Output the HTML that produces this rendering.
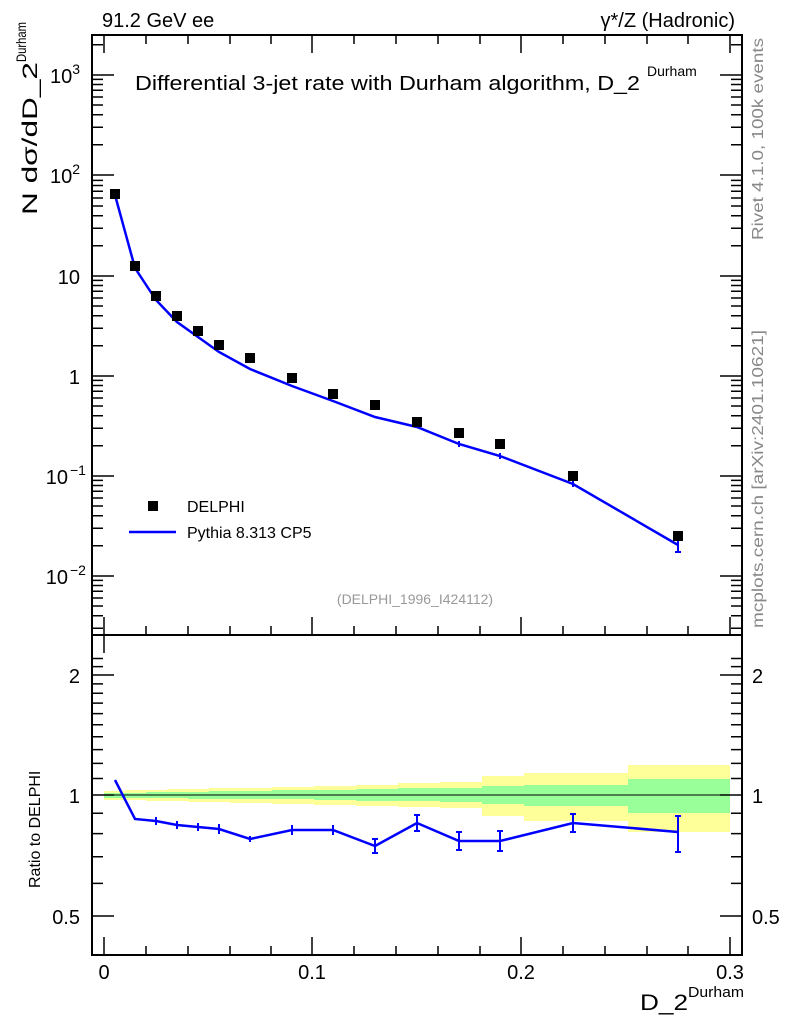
<!DOCTYPE html>
<html><head><style>body{margin:0;background:#fff}svg{display:block;font-family:"Liberation Sans",sans-serif}</style></head><body>
<svg width="786" height="1024" viewBox="0 0 786 1024">
<g stroke="none">
<rect x="104" y="791" width="21" height="9" fill="#ffff99"/><rect x="104" y="793" width="21" height="5" fill="#99ff99"/>
<rect x="125" y="790" width="21" height="10" fill="#ffff99"/><rect x="125" y="793" width="21" height="5" fill="#99ff99"/>
<rect x="146" y="790" width="21" height="11" fill="#ffff99"/><rect x="146" y="792" width="21" height="6" fill="#99ff99"/>
<rect x="167" y="789" width="21" height="12" fill="#ffff99"/><rect x="167" y="792" width="21" height="6" fill="#99ff99"/>
<rect x="188" y="789" width="21" height="13" fill="#ffff99"/><rect x="188" y="792" width="21" height="7" fill="#99ff99"/>
<rect x="209" y="788" width="21" height="14" fill="#ffff99"/><rect x="209" y="791" width="21" height="8" fill="#99ff99"/>
<rect x="230" y="788" width="42" height="15" fill="#ffff99"/><rect x="230" y="791" width="42" height="8" fill="#99ff99"/>
<rect x="272" y="787" width="42" height="17" fill="#ffff99"/><rect x="272" y="790" width="42" height="9" fill="#99ff99"/>
<rect x="314" y="786" width="42" height="19" fill="#ffff99"/><rect x="314" y="790" width="42" height="10" fill="#99ff99"/>
<rect x="356" y="785" width="42" height="21" fill="#ffff99"/><rect x="356" y="789" width="42" height="12" fill="#99ff99"/>
<rect x="398" y="783" width="42" height="24" fill="#ffff99"/><rect x="398" y="788" width="42" height="13" fill="#99ff99"/>
<rect x="440" y="782" width="42" height="26" fill="#ffff99"/><rect x="440" y="788" width="42" height="14" fill="#99ff99"/>
<rect x="482" y="776" width="42" height="40" fill="#ffff99"/><rect x="482" y="786" width="42" height="18" fill="#99ff99"/>
<rect x="524" y="773" width="104" height="48" fill="#ffff99"/><rect x="524" y="785" width="104" height="21" fill="#99ff99"/>
<rect x="628" y="765" width="102" height="67" fill="#ffff99"/><rect x="628" y="779" width="102" height="34" fill="#99ff99"/>
</g>
<line x1="92" y1="795" x2="742" y2="795" stroke="#000" stroke-width="1"/>
<rect x="92" y="35" width="650" height="600" fill="none" stroke="#000" stroke-width="2"/>
<rect x="92" y="635" width="650" height="320" fill="none" stroke="#000" stroke-width="2"/>
<g stroke="#000" stroke-width="1.5">
<path d="M104 635v-18M312 635v-18M521 635v-18M730 635v-18M104 955v-18M312 955v-18M521 955v-18M730 955v-18
M104 35v18M312 35v18M521 35v18M730 35v18
M146 635v-9M188 635v-9M230 635v-9M271 635v-9M354 635v-9M396 635v-9M438 635v-9M480 635v-9M563 635v-9M605 635v-9M647 635v-9M688 635v-9
M146 955v-9M188 955v-9M230 955v-9M271 955v-9M354 955v-9M396 955v-9M438 955v-9M480 955v-9M563 955v-9M605 955v-9M647 955v-9M688 955v-9
M146 35v9M188 35v9M230 35v9M271 35v9M354 35v9M396 35v9M438 35v9M480 35v9M563 35v9M605 35v9M647 35v9M688 35v9
M104 635v18"/>
<path d="M92 75h22M92 175h22M92 276h22M92 376h22M92 476h22M92 576h22M742 75h-22M742 175h-22M742 276h-22M742 376h-22M742 476h-22M742 576h-22
M92 675h22M92 795h22M92 916h22M742 675h-22M742 795h-22M742 916h-22"/>
</g>
<g stroke="#000" stroke-width="1.5" id="minors"></g>
<polyline fill="none" stroke="#0000ff" stroke-width="2.5" points="115,195 135,268 156,300 177,322 198,337 219,352 250,369 292,386 333,401 375,417 417,427 459,444 500,456 573,484 678,545"/>
<g stroke="#0000ff" stroke-width="2"><path d="M678 538v14M675 538h6M675 552h6M573 481v6M500 453v6M459 441v6"/></g>
<g fill="#000">
<rect x="110" y="189" width="10" height="10"/><rect x="130" y="261" width="10" height="10"/><rect x="151" y="291" width="10" height="10"/><rect x="172" y="311" width="10" height="10"/><rect x="193" y="326" width="10" height="10"/><rect x="214" y="340" width="10" height="10"/><rect x="245" y="353" width="10" height="10"/><rect x="287" y="373" width="10" height="10"/><rect x="328" y="389" width="10" height="10"/><rect x="370" y="400" width="10" height="10"/><rect x="412" y="417" width="10" height="10"/><rect x="454" y="428" width="10" height="10"/><rect x="495" y="439" width="10" height="10"/><rect x="568" y="471" width="10" height="10"/><rect x="673" y="531" width="10" height="10"/>
</g>
<polyline fill="none" stroke="#0000ff" stroke-width="2.5" points="115,780 135,819 156,821 177,825 198,827 219,829 250,839 292,830 333,830 375,846 417,823 459,841 500,841 573,823 678,832"/>
<g stroke="#0000ff" stroke-width="2"><path d="M156 817v8M177 821v8M198 823v8M219 824v10M250 836v6M292 825v10M333 825v10M375 839v14M417 815v16M459 832v18M500 831v20M573 814v18M678 816v36M675 816h6M675 852h6M372 839h6M372 853h6M414 815h6M414 831h6M456 832h6M456 850h6M497 831h6M497 851h6M570 814h6M570 832h6"/></g>
<g font-size="20" fill="#000">
<text x="102" y="27">91.2 GeV ee</text>
<text x="735" y="27" text-anchor="end">γ*/Z (Hadronic)</text>
<text x="135" y="90" textLength="505" lengthAdjust="spacingAndGlyphs">Differential 3-jet rate with Durham algorithm, D_2</text>
<text x="647" y="76" font-size="14">Durham</text>
<text x="80" y="83" text-anchor="end">10<tspan font-size="14" dy="-9">3</tspan></text>
<text x="80" y="183" text-anchor="end">10<tspan font-size="14" dy="-9">2</tspan></text>
<text x="80" y="284" text-anchor="end">10</text>
<text x="80" y="384" text-anchor="end">1</text>
<text x="68" y="484" text-anchor="end">10</text><text x="70" y="475" font-size="14">−1</text>
<text x="68" y="584" text-anchor="end">10</text><text x="70" y="575" font-size="14">−2</text>
<text x="80" y="683" text-anchor="end">2</text>
<text x="80" y="803" text-anchor="end">1</text>
<text x="80" y="924" text-anchor="end">0.5</text>
<text x="752" y="683">2</text>
<text x="752" y="803">1</text>
<text x="752" y="924">0.5</text>
<text x="104" y="979" text-anchor="middle">0</text>
<text x="312" y="979" text-anchor="middle">0.1</text>
<text x="521" y="979" text-anchor="middle">0.2</text>
<text x="730" y="979" text-anchor="middle">0.3</text>
<text x="640" y="1010" font-size="22" textLength="48" lengthAdjust="spacingAndGlyphs">D_2</text>
<text x="688" y="997" font-size="15" textLength="56" lengthAdjust="spacingAndGlyphs">Durham</text>
<text transform="translate(37,215) rotate(-90)" font-size="21" textLength="153" lengthAdjust="spacingAndGlyphs">N  dσ/dD_2</text>
<text transform="translate(26,62) rotate(-90)" font-size="14" textLength="40" lengthAdjust="spacingAndGlyphs">Durham</text>
</g>
<text transform="translate(40,888) rotate(-90)" font-size="16">Ratio to DELPHI</text>
<rect x="148" y="501" width="10" height="10" fill="#000"/>
<text x="187" y="512" font-size="16">DELPHI</text>
<line x1="129" y1="532" x2="176" y2="532" stroke="#0000ff" stroke-width="2.5"/>
<text x="187" y="538" font-size="16">Pythia 8.313 CP5</text>
<text x="415" y="604" font-size="14" fill="#999" text-anchor="middle">(DELPHI_1996_I424112)</text>
<text transform="translate(763,240) rotate(-90)" font-size="16" fill="#888" textLength="202" lengthAdjust="spacingAndGlyphs">Rivet 4.1.0,  100k events</text>
<text transform="translate(763,628) rotate(-90)" font-size="16" fill="#888" textLength="298" lengthAdjust="spacingAndGlyphs">mcplots.cern.ch [arXiv:2401.10621]</text>
</svg>
<script>
(function(){var g=document.getElementById('minors'),s='';
function add(y){s+='M92 '+y+'h11M742 '+y+'h-11';}
var bases=[676,576,476,376,276,175,75];
bases.forEach(function(b){for(var k=2;k<10;k++){var y=b-100.2*Math.log10(k);if(y>37&&y<633)add(y.toFixed(1));}});
var r=[0.4,0.6,0.7,0.8,0.9,1.1,1.2,1.3,1.4,1.5,1.6,1.7,1.8,1.9,2.1,2.2];
r.forEach(function(v){var y=795-398.6*Math.log10(v);if(y>637&&y<953)add(y.toFixed(1));});
var p=document.createElementNS('http://www.w3.org/2000/svg','path');p.setAttribute('d',s);g.appendChild(p);})();
</script>
</body></html>
